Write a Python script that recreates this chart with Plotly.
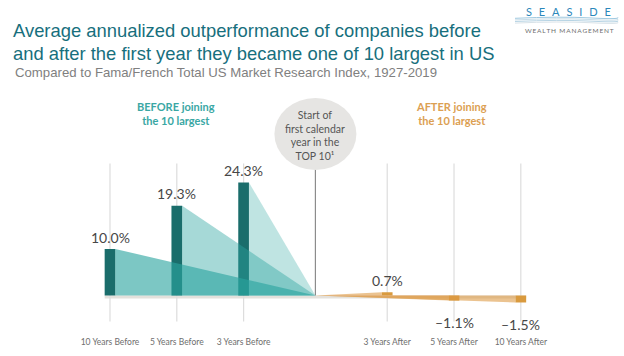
import plotly.graph_objects as go

# ---------------- data ----------------
before_labels = ["10 Years Before", "5 Years Before", "3 Years Before"]
before_values = [10.0, 19.3, 24.3]
after_labels = ["3 Years After", "5 Years After", "10 Years After"]
after_values = [0.7, -1.1, -1.5]

title_lines = [
    "Average annualized outperformance of companies before",
    "and after the first year they became one of 10 largest in US",
]
subtitle = "Compared to Fama/French Total US Market Research Index, 1927-2019"
before_heading = "BEFORE joining<br>the 10 largest"
after_heading = "AFTER joining<br>the 10 largest"
pivot_text = "Start of<br>first calendar<br>year in the<br>TOP 10\u00b9"

# ---------------- layout geometry ----------------
W, H = 624, 356
PLOT_H = 330          # plot area height (bottom margin holds tick labels)
SLOT_PX = 66.8        # px per category slot
X0_PX = 110           # px of the first slot
Y_PX = 4.65           # px per percentage point
BASE_PX = 295.5       # px of the zero line
BAR_W = 0.16          # bar width in slot units
HW = BAR_W / 2

before_x = [float(i) for i in range(len(before_values))]
pivot_x = before_x[-1] + 1.075
after_x = [pivot_x + 1.075 + i for i in range(len(after_values))]

x_range = [-X0_PX / SLOT_PX, (W - X0_PX) / SLOT_PX]
y_range = [-(PLOT_H - BASE_PX) / Y_PX, BASE_PX / Y_PX]


def py(p):
    """pixel row -> paper y"""
    return (PLOT_H - p) / PLOT_H


def px(p):
    return p / W


def vy(p):
    """pixel row -> data y"""
    return (BASE_PX - p) / Y_PX


teal_dark = "#1a6d6b"
teal_rgb = (43, 165, 160)
teal_alphas = [0.62, 0.42, 0.30]
orange_dark = "#d99a3e"
orange_rgb = (222, 155, 70)
orange_alphas = [0.6, 0.6, 0.6]


def rgba(rgb, a):
    return f"rgba({rgb[0]},{rgb[1]},{rgb[2]},{a})"


fig = go.Figure()

# wedges before (drawn first so bars sit on top)
for xb, v, a in zip(before_x, before_values, teal_alphas):
    fig.add_trace(go.Scatter(
        x=[xb + HW, xb + HW, pivot_x, xb + HW], y=[0, v, 0, 0],
        mode="lines", line=dict(width=0), fill="toself",
        fillcolor=rgba(teal_rgb, a), hoverinfo="skip", showlegend=False))

# wedges after (largest reach first)
for xa, v, a in reversed(list(zip(after_x, after_values, orange_alphas))):
    fig.add_trace(go.Scatter(
        x=[pivot_x, xa - HW, xa - HW, pivot_x], y=[0, v, 0, 0],
        mode="lines", line=dict(width=0), fill="toself",
        fillcolor=rgba(orange_rgb, a), hoverinfo="skip", showlegend=False))

fig.add_trace(go.Bar(x=before_x, y=before_values, width=BAR_W,
                     marker=dict(color=teal_dark, line=dict(width=0)),
                     hoverinfo="skip", showlegend=False))
fig.add_trace(go.Bar(x=after_x, y=after_values, width=BAR_W,
                     marker=dict(color=orange_dark, line=dict(width=0)),
                     hoverinfo="skip", showlegend=False))

shapes = []
# baseline band
shapes.append(dict(type="rect", xref="x", yref="y", layer="below",
                   x0=before_x[0] - HW, x1=after_x[-1] + HW,
                   y0=vy(BASE_PX + 3), y1=0,
                   fillcolor="#e4e1dc", line=dict(width=0)))
# vertical gridlines
for xg in before_x + after_x:
    shapes.append(dict(type="line", xref="x", yref="y", layer="below",
                       x0=xg, x1=xg, y0=vy(321.5), y1=vy(163.5),
                       line=dict(color="#dddddd", width=1.2)))
# pivot line
shapes.append(dict(type="line", xref="x", yref="y", layer="below",
                   x0=pivot_x, x1=pivot_x, y0=0, y1=vy(168),
                   line=dict(color="#8c8c8c", width=1.2)))
# pivot bubble
rx = 41 / SLOT_PX
shapes.append(dict(type="circle", xref="x", yref="y", layer="above",
                   x0=pivot_x - rx, x1=pivot_x + rx, y0=vy(170), y1=vy(98),
                   fillcolor="#e6e5e3", line=dict(width=0)))
# logo waves
wave_cols = ["#9fc9e0", "#c9dde8", "#b7d4e4", "#d8e2e8"]
for i, c in enumerate(wave_cols):
    y0 = 17.5 + i * 1.6
    shapes.append(dict(type="path", xref="paper", yref="paper", layer="above",
                       path=(f"M {px(515)},{py(y0 + 0.8)} Q {px(560)},{py(y0 - 1.2)} "
                             f"{px(590)},{py(y0 + 0.4)} T {px(618)},{py(y0)}"),
                       line=dict(color=c, width=1)))

ann = []
LBL_FONT = dict(family="Lato, Open Sans, sans-serif", size=14, color="#474747")


def fmt(v):
    return f"{v:.1f}%".replace("-", "\u2013")


for xb, v in zip(before_x + after_x, before_values + after_values):
    ann.append(dict(x=xb, y=v, xref="x", yref="y", text=fmt(v), showarrow=False,
                    yanchor="middle", xanchor="center",
                    yshift=12 if v >= 0 else -22, font=LBL_FONT))

# headings
ann.append(dict(x=px(176), y=py(113.5), xref="paper", yref="paper",
                text=f"<b>{before_heading}</b>", showarrow=False,
                xanchor="center", yanchor="middle",
                font=dict(family="Lato, sans-serif", size=11, color="#3aa7a4")))
ann.append(dict(x=px(451), y=py(113.5), xref="paper", yref="paper",
                text=f"<b>{after_heading}</b>", showarrow=False,
                xanchor="center", yanchor="middle",
                font=dict(family="Lato, sans-serif", size=11, color="#dca052")))
ann.append(dict(x=pivot_x, y=py(135), xref="x", yref="paper", text=pivot_text,
                showarrow=False, xanchor="center", yanchor="middle",
                font=dict(family="Lato, sans-serif", size=10.5, color="#555555")))

# titles
TITLE_FONT = dict(family="Liberation Sans, Arial, sans-serif", size=18.4, color="#176f7d")
for line, yc in zip(title_lines, [30.7, 53.3]):
    ann.append(dict(x=px(11), y=py(yc), xref="paper", yref="paper", text=line,
                    showarrow=False, xanchor="left", yanchor="middle", font=TITLE_FONT))
ann.append(dict(x=px(12.5), y=py(72.7), xref="paper", yref="paper", text=subtitle,
                showarrow=False, xanchor="left", yanchor="middle",
                font=dict(family="Liberation Sans, Arial, sans-serif", size=13.2,
                          color="#808080")))
# logo
ann.append(dict(x=px(568), y=py(11.5), xref="paper", yref="paper",
                text="\u2002\u2009".join("SEASIDE"), showarrow=False,
                xanchor="center", yanchor="middle",
                font=dict(family="Lato, sans-serif", size=11, color="#2b87bb")))
ann.append(dict(x=px(569.5), y=py(30), xref="paper", yref="paper",
                text="\u2009".join("WEALTH MANAGEMENT"), showarrow=False,
                xanchor="center", yanchor="middle",
                font=dict(family="Lato, sans-serif", size=6.5, color="#6d6d6d")))

fig.update_layout(
    width=W, height=H, margin=dict(l=0, r=0, t=0, b=H - PLOT_H),
    paper_bgcolor="white", plot_bgcolor="white",
    shapes=shapes, annotations=ann, barmode="overlay",
    xaxis=dict(range=x_range, showgrid=False, zeroline=False, showline=False,
               tickmode="array", tickvals=before_x + after_x,
               ticktext=before_labels + after_labels, ticks="outside",
               ticklen=4, tickcolor="rgba(0,0,0,0)",
               tickfont=dict(family="Liberation Sans Narrow, Lato, sans-serif",
                             size=8.5, color="#6e6e6e")),
    yaxis=dict(range=y_range, showgrid=False, zeroline=False, showline=False,
               showticklabels=False),
)

fig.write_html("out.html", config={"displayModeBar": False},
               post_script="document.body.style.margin='0';document.body.style.overflow='hidden';")
